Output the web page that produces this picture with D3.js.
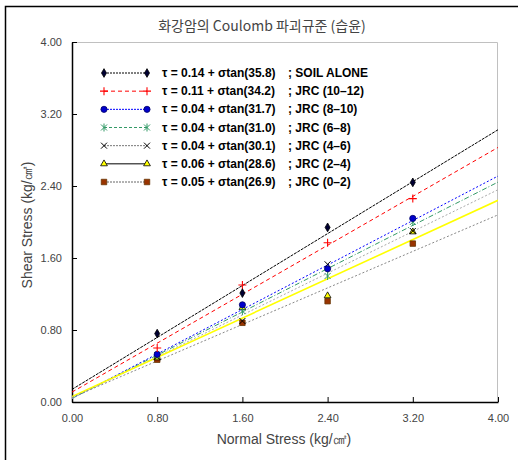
<!DOCTYPE html>
<html>
<head>
<meta charset="utf-8">
<script src="https://cdn.jsdelivr.net/npm/d3@7"></script>
<style>
  body { margin: 0; background: #fff; }
  svg { display: block; }
</style>
</head>
<body>
<div id="chart"></div>
<script>
// normal stress where the tests were run
var sigma = [0.8, 1.6, 2.4, 3.2];

// measured shear stress, one array per joint roughness group
var soilAlone = [0.76, 1.21, 1.94, 2.44];
var jrc10_12  = [0.60, 1.30, 1.77, 2.26];
var jrc8_10   = [0.53, 1.08, 1.48, 2.04];
var jrc6_8    = [0.52, 1.01, 1.40, 2.00];
var jrc4_6    = [0.50, 0.90, 1.53, 1.90];
var jrc2_4    = [0.49, 1.05, 1.18, 1.89];
var jrc0_2    = [0.47, 0.88, 1.12, 1.76];

// Coulomb fit parameters as printed in the legend
var cohesion = [0.14, 0.11, 0.04, 0.04, 0.04, 0.06, 0.05];
var phi      = [35.8, 34.2, 31.7, 31.0, 30.1, 28.6, 26.9];
var groupLabels = ["SOIL ALONE", "JRC (10\u201312)", "JRC (8\u201310)", "JRC (6\u20138)",
                   "JRC (4\u20136)", "JRC (2\u20134)", "JRC (0\u20132)"];

var tickValues = [0, 0.8, 1.6, 2.4, 3.2, 4.0];

(function (d3) {

    var W = 518, H = 460;
    var margin = {top: 42, right: 20, bottom: 58, left: 72};
    var width = 498 - margin.left;
    var height = 402 - margin.top;

    var series = [soilAlone, jrc10_12, jrc8_10, jrc6_8, jrc4_6, jrc2_4, jrc0_2];

    // styling per group: fit line in the plot, line + marker in the legend
    var styles = [
        {line: "#000000", dash: "3,1", lw: 1, legLine: "#000000", legDash: "2,1",
         symbol: d3.symbolDiamond, size: 22, fill: "#000033", stroke: "#000000"},
        {line: "#ff0000", dash: "4,3", lw: 1, legLine: "#ff0000", legDash: "4,3",
         symbol: "plus", size: 4, fill: "none", stroke: "#ff0000"},
        {line: "#0000ff", dash: "2,2", lw: 1, legLine: "#0000ff", legDash: "2,1",
         symbol: d3.symbolCircle, size: 30, fill: "#0000cc", stroke: "#000066"},
        {line: "#339966", dash: "5,2,1,2", lw: 1, legLine: "#339966", legDash: "3,2",
         symbol: "star", size: 3, fill: "none", stroke: "#339966"},
        {line: "#aaaaaa", dash: "2,2", lw: 1, legLine: "#777777", legDash: "2,1",
         symbol: "cross", size: 3, fill: "none", stroke: "#000000"},
        {line: "#ffff00", dash: null, lw: 1.6, legLine: "#000000", legDash: null,
         symbol: d3.symbolTriangle, size: 20, fill: "#ffff00", stroke: "#000000"},
        {line: "#888888", dash: "2,2", lw: 1, legLine: "#666666", legDash: "2,1",
         symbol: d3.symbolSquare, size: 30, fill: "#993300", stroke: "#663300"}
    ];

    var svg = d3.select("#chart").append("svg")
        .attr("width", W).attr("height", H);

    // outer frame (top + left only)
    svg.append("path")
       .attr("d", "M5.5," + H + "V6.5H" + W)
       .attr("fill", "none").attr("stroke", "#000").attr("stroke-width", 1.5);

    svg.append("text")
       .attr("x", 262).attr("y", 31)
       .attr("text-anchor", "middle")
       .style("font-family", "'Noto Sans CJK KR', sans-serif")
       .style("font-size", "14px")
       .style("fill", "#444")
       .text("화강암의 Coulomb 파괴규준 (습윤)");

    var g = svg.append("g")
               .attr("transform", "translate(" + margin.left + "," + margin.top + ")");

    var x = d3.scaleLinear().domain([0, 4]).range([0, width]);
    var y = d3.scaleLinear().domain([0, 4]).range([height, 0]);

    // plot frame: light top/right
    g.append("path")
     .attr("d", "M0,0.5H" + (width - 0.5) + "V" + height)
     .attr("fill", "none").attr("stroke", "#c0c0c0");

    var xAxis = g.append("g")
     .attr("transform", "translate(0," + height + ")")
     .call(d3.axisBottom(x).tickValues(tickValues).tickSizeInner(-5).tickSizeOuter(0)
             .tickPadding(12).tickFormat(d3.format(".2f")));
    var yAxis = g.append("g")
     .call(d3.axisLeft(y).tickValues(tickValues).tickSizeInner(-5).tickSizeOuter(0)
             .tickPadding(10).tickFormat(d3.format(".2f")));

    [xAxis, yAxis].forEach(function (a) {
        a.select(".domain").attr("stroke", "#000").attr("stroke-width", 1.5);
        a.selectAll(".tick line").attr("stroke", "#000");
        a.selectAll("text")
         .style("font-family", "'Liberation Sans', Arial, sans-serif")
         .style("font-size", "11px")
         .style("fill", "#444");
    });

    svg.append("text")
       .attr("x", 284).attr("y", 444)
       .attr("text-anchor", "middle")
       .style("font-family", "'Liberation Sans', Arial, sans-serif")
       .style("font-size", "14px").style("fill", "#444")
       .text("Normal Stress (kg/\u33A0)");

    svg.append("text")
       .attr("transform", "translate(32,225) rotate(-90)")
       .attr("text-anchor", "middle")
       .style("font-family", "'Liberation Sans', Arial, sans-serif")
       .style("font-size", "14px").style("fill", "#444")
       .text("Shear Stress (kg/\u33A0)");

    // clip for fit lines
    svg.append("clipPath").attr("id", "plotClip")
       .append("rect").attr("width", width).attr("height", height);

    var fitLine = d3.line()
        .x(function (d) { return x(d.s); })
        .y(function (d) { return y(d.t); });

    var lines = g.append("g").attr("clip-path", "url(#plotClip)");
    cohesion.forEach(function (c, i) {
        var t = Math.tan(phi[i] * Math.PI / 180);
        var pts = [0, 4].map(function (s) { return {s: s, t: c + s * t}; });
        lines.append("path")
             .attr("d", fitLine(pts))
             .attr("fill", "none")
             .attr("stroke", styles[i].line)
             .attr("stroke-width", styles[i].lw)
             .attr("stroke-dasharray", styles[i].dash);
    });

    function drawMarker(sel, st, cx, cy) {
        var s = st.size;
        if (st.symbol === "plus") {
            sel.append("path")
               .attr("d", "M" + (cx - s) + "," + cy + "H" + (cx + s) + "M" + cx + "," + (cy - s) + "V" + (cy + s))
               .attr("stroke", st.stroke).attr("stroke-width", 1.1).attr("fill", "none");
        } else if (st.symbol === "cross") {
            sel.append("path")
               .attr("d", "M" + (cx - s) + "," + (cy - s) + "L" + (cx + s) + "," + (cy + s) +
                          "M" + (cx - s) + "," + (cy + s) + "L" + (cx + s) + "," + (cy - s))
               .attr("stroke", st.stroke).attr("stroke-width", 1).attr("fill", "none");
        } else if (st.symbol === "star") {
            sel.append("path")
               .attr("d", "M" + (cx - s) + "," + (cy - s) + "L" + (cx + s) + "," + (cy + s) +
                          "M" + (cx - s) + "," + (cy + s) + "L" + (cx + s) + "," + (cy - s) +
                          "M" + cx + "," + (cy - s - 1) + "V" + (cy + s + 1))
               .attr("stroke", st.stroke).attr("stroke-width", 1).attr("fill", "none");
        } else {
            sel.append("path")
               .attr("transform", "translate(" + cx + "," + cy + ")")
               .attr("d", d3.symbol().type(st.symbol).size(s)())
               .attr("fill", st.fill).attr("stroke", st.stroke).attr("stroke-width", 0.8);
        }
    }

    // measured points (drawn from the last group up so the fit groups on top stay visible)
    var pts = g.append("g");
    for (var i = series.length - 1; i >= 0; i--) {
        series[i].forEach(function (v, j) {
            drawMarker(pts, styles[i], x(sigma[j]), y(v));
        });
    }

    // legend
    var legend = svg.append("g");
    var rowY = d3.scaleLinear().domain([0, 6]).range([73, 182]);
    cohesion.forEach(function (c, i) {
        var yy = rowY(i);
        var st = styles[i];
        legend.append("line")
              .attr("x1", 104).attr("x2", 147).attr("y1", yy).attr("y2", yy)
              .attr("stroke", st.legLine).attr("stroke-width", 1)
              .attr("stroke-dasharray", st.legDash);
        drawMarker(legend, st, 104, yy);
        drawMarker(legend, st, 147, yy);
        legend.append("text")
              .attr("x", 162).attr("y", yy + 4)
              .style("font-family", "'Liberation Sans', Arial, sans-serif")
              .style("font-size", "12px").style("font-weight", "bold")
              .text("\u03C4 = " + c.toFixed(2) + " + \u03C3tan(" + phi[i].toFixed(1) + ")");
        legend.append("text")
              .attr("x", 288).attr("y", yy + 4)
              .style("font-family", "'Liberation Sans', Arial, sans-serif")
              .style("font-size", "12px").style("font-weight", "bold")
              .text("; " + groupLabels[i]);
    });

})(d3);
</script>
</body>
</html>
